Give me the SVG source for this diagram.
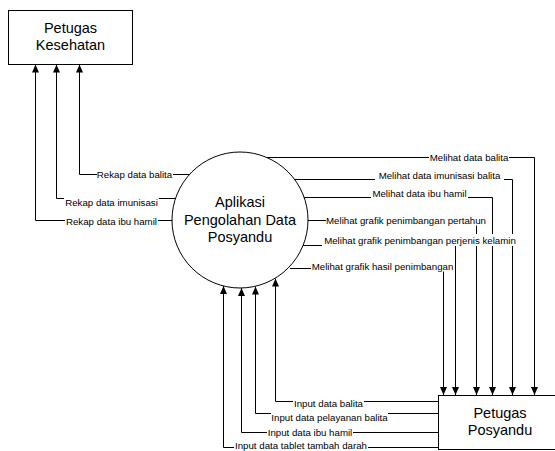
<svg xmlns="http://www.w3.org/2000/svg" width="555" height="451" viewBox="0 0 555 451">
<defs>
<marker id="arr" markerUnits="userSpaceOnUse" markerWidth="8" markerHeight="7" refX="8" refY="3.5" orient="auto">
<path d="M0,0 L8,3.5 L0,7 z" fill="#000"/>
</marker>
<style>
.node{fill:#fff;stroke:#000;stroke-width:1}
.big{font-family:"Liberation Sans",Arial,sans-serif;font-size:14.5px;fill:#000;text-anchor:middle}
.conn path{fill:none;stroke:#000;stroke-width:1;marker-end:url(#arr)}
.lbl rect{fill:#fff;stroke:none}
.lbl text{font-family:"Liberation Sans",Arial,sans-serif;font-size:9.7px;fill:#000;text-anchor:middle}
</style>
</defs>
<rect x="0" y="0" width="555" height="451" fill="#fff"/>
<g id="connectors" class="conn">
<path d="M190,174.5 H79.5 V64.5"/>
<path d="M176,198.5 H56.5 V64.5"/>
<path d="M172,220.5 H35.5 V64.5"/>
<path d="M266,157.5 H534.5 V395"/>
<path d="M294,179.5 H512.5 V395"/>
<path d="M304,197.5 H492.5 V395"/>
<path d="M308,220.5 H476.5 V395"/>
<path d="M303,245.5 H455.5 V395"/>
<path d="M290,268.5 H443.5 V395"/>
<path d="M438,401.5 H275.5 V278.5"/>
<path d="M438,413.5 H255.5 V286.5"/>
<path d="M438,432.5 H241.5 V288"/>
<path d="M438,447.5 H223.5 V286"/>
</g>
<g id="labels" class="lbl">
<rect x="97" y="168.5" width="76" height="11"/><text x="134.5" y="177.5">Rekap data balita</text>
<rect x="64" y="196.5" width="95" height="11"/><text x="111.5" y="205.5">Rekap data imunisasi</text>
<rect x="65" y="215.5" width="93" height="11"/><text x="111.5" y="224.5">Rekap data ibu hamil</text>
<rect x="429" y="151.5" width="80" height="11"/><text x="469" y="160.5">Melihat data balita</text>
<rect x="375" y="169.5" width="129" height="11"/><text x="439.5" y="178.5">Melihat data imunisasi balita</text>
<rect x="371" y="187.5" width="97" height="11"/><text x="419.5" y="196.5">Melihat data ibu hamil</text>
<rect x="326" y="214.5" width="160" height="11"/><text x="406" y="223.5">Melihat grafik penimbangan pertahun</text>
<rect x="322" y="234" width="196" height="12"/><text x="420" y="243.5">Melihat grafik penimbangan perjenis kelamin</text>
<rect x="311" y="260.5" width="143" height="11"/><text x="382.5" y="269.5">Melihat grafik hasil penimbangan</text>
<rect x="293" y="397.5" width="71" height="11"/><text x="328.5" y="406.5">Input data balita</text>
<rect x="271" y="411.5" width="117" height="11"/><text x="329.5" y="420.5">Input data pelayanan balita</text>
<rect x="267" y="426.5" width="86" height="11"/><text x="310" y="435.5">Input data ibu hamil</text>
<rect x="234" y="442" width="134" height="11"/><text x="301" y="449">Input data tablet tambah darah</text>
</g>
<g id="petugas-kesehatan">
<rect class="node" x="8.5" y="10.5" width="124" height="54"/>
<text class="big" x="70.5" y="33">Petugas</text>
<text class="big" x="70.5" y="50">Kesehatan</text>
</g>
<g id="aplikasi">
<circle class="node" cx="240" cy="220" r="68"/>
<text class="big" x="240" y="207">Aplikasi</text>
<text class="big" x="240" y="225">Pengolahan Data</text>
<text class="big" x="240" y="242">Posyandu</text>
</g>
<g id="petugas-posyandu">
<rect class="node" x="438.5" y="395.5" width="124" height="54"/>
<text class="big" x="500" y="418">Petugas</text>
<text class="big" x="500" y="435">Posyandu</text>
</g>
</svg>
